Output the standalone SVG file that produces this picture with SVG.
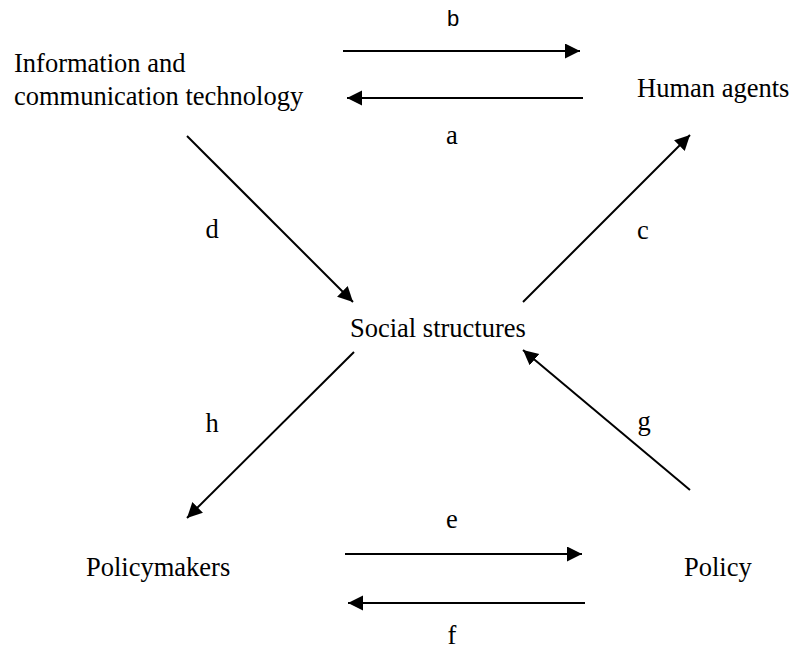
<svg xmlns="http://www.w3.org/2000/svg" width="791" height="650" viewBox="0 0 791 650">
<defs>
<style>
.t{font-family:"Liberation Serif","Times New Roman",serif;font-size:26.5px;fill:#000}
.s{font-family:"Liberation Sans",Arial,sans-serif;font-size:22px;fill:#000}
.c{fill:none;stroke:#000;stroke-width:2}
</style>
<marker id="ah" markerUnits="userSpaceOnUse" markerWidth="16" markerHeight="16" viewBox="0 0 16 16" refX="15" refY="7.5" orient="auto">
<path d="M0,0 L15,7.5 L0,15 z" fill="#000"/>
</marker>
</defs>
<rect width="791" height="650" fill="#fff"/>
<g id="ict"><text class="t" x="14" y="72">Information and</text><text class="t" x="14" y="105">communication technology</text></g>
<g id="human"><text class="t" x="637" y="97">Human agents</text></g>
<g id="social"><text class="t" x="350" y="337">Social structures</text></g>
<g id="policymakers"><text class="t" x="86" y="576">Policymakers</text></g>
<g id="policy"><text class="t" x="684" y="576">Policy</text></g>
<g id="connectors">
<line class="c" x1="343" y1="51" x2="580" y2="51" marker-end="url(#ah)"/>
<line class="c" x1="583" y1="98" x2="347" y2="98" marker-end="url(#ah)"/>
<line class="c" x1="187" y1="136" x2="353" y2="302" marker-end="url(#ah)"/>
<line class="c" x1="523" y1="302" x2="690" y2="135" marker-end="url(#ah)"/>
<line class="c" x1="354" y1="352" x2="187" y2="518" marker-end="url(#ah)"/>
<line class="c" x1="690" y1="490" x2="523" y2="350" marker-end="url(#ah)"/>
<line class="c" x1="345" y1="554" x2="582" y2="554" marker-end="url(#ah)"/>
<line class="c" x1="585" y1="603" x2="348" y2="603" marker-end="url(#ah)"/>
<text class="s" x="453" y="26" text-anchor="middle">b</text>
<text class="t" x="452" y="144" text-anchor="middle">a</text>
<text class="t" x="212" y="238" text-anchor="middle">d</text>
<text class="t" x="643" y="239" text-anchor="middle">c</text>
<text class="t" x="212" y="432" text-anchor="middle">h</text>
<text class="t" x="644" y="430" text-anchor="middle">g</text>
<text class="t" x="452" y="528" text-anchor="middle">e</text>
<text class="t" x="452" y="644" text-anchor="middle">f</text>
</g>
</svg>
